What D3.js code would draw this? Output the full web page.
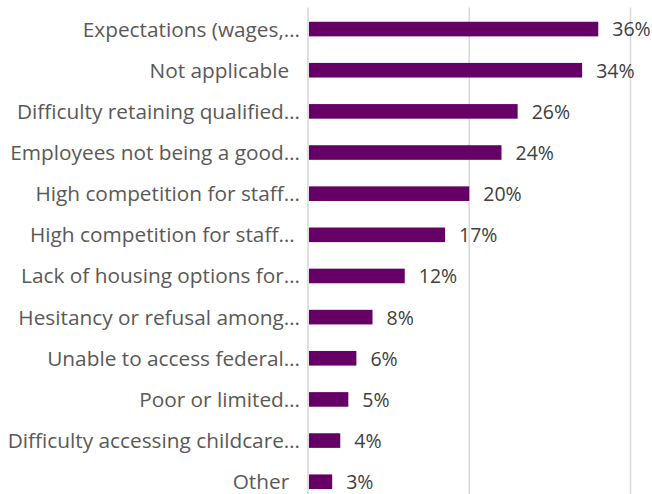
<!DOCTYPE html>
<html>
<head>
<meta charset="utf-8">
<script src="https://cdn.jsdelivr.net/npm/d3@7"></script>
<style>
  html, body { margin: 0; padding: 0; background: #ffffff; }
  svg { display: block; }
  text { font-family: "Open Sans", Lato, sans-serif; }
</style>
</head>
<body>
<svg id="chart" width="652" height="494"></svg>
<script>
// Categories (top to bottom) and their shares in percent
const categories = [
  "Expectations (wages,…",
  "Not applicable  ",
  "Difficulty retaining qualified…",
  "Employees not being a good…",
  "High competition for staff…",
  "High competition for staff… ",
  "Lack of housing options for…",
  "Hesitancy or refusal among…",
  "Unable to access federal…",
  "Poor or limited…",
  "Difficulty accessing childcare…",
  "Other  "
];
const values = [36, 34, 26, 24, 20, 17, 12, 8, 6, 5, 4, 3];
const gridTicks = [0, 20, 40];

const svg = d3.select("#chart");

const x = d3.scaleLinear().domain([0, 40]).range([308, 630.5]);
const y = d3.scaleBand()
  .domain(categories)
  .range([8.5, 502.3])
  .paddingInner(0.645)
  .paddingOuter(0.3225);

// vertical gridlines
svg.append("g")
  .selectAll("line")
  .data(gridTicks)
  .join("line")
  .attr("x1", d => x(d))
  .attr("x2", d => x(d))
  .attr("y1", 7.5)
  .attr("y2", 494)
  .attr("stroke", "#d9d9d9")
  .attr("stroke-width", 1.6);

// bars
svg.append("g")
  .selectAll("rect")
  .data(values)
  .join("rect")
  .attr("x", x(0) + 1)
  .attr("y", (d, i) => y(categories[i]))
  .attr("width", d => x(d) - x(0) - 1)
  .attr("height", y.bandwidth())
  .attr("fill", "#660066");

// category labels (trailing spaces kept)
svg.append("g")
  .selectAll("text")
  .data(categories)
  .join("text")
  .attr("xml:space", "preserve")
  .style("white-space", "pre")
  .attr("x", 300)
  .attr("y", d => y(d) + y.bandwidth() / 2)
  .attr("dy", "0.36em")
  .attr("text-anchor", "end")
  .attr("font-size", 20.8)
  .attr("fill", "#595959")
  .text(d => d);

// value labels
svg.append("g")
  .selectAll("text")
  .data(values)
  .join("text")
  .attr("x", d => x(d) + 14)
  .attr("y", (d, i) => y(categories[i]) + y.bandwidth() / 2)
  .attr("dy", "0.38em")
  .attr("font-size", 19.5)
  .attr("fill", "#404040")
  .text(d => d + "%");
</script>
</body>
</html>
